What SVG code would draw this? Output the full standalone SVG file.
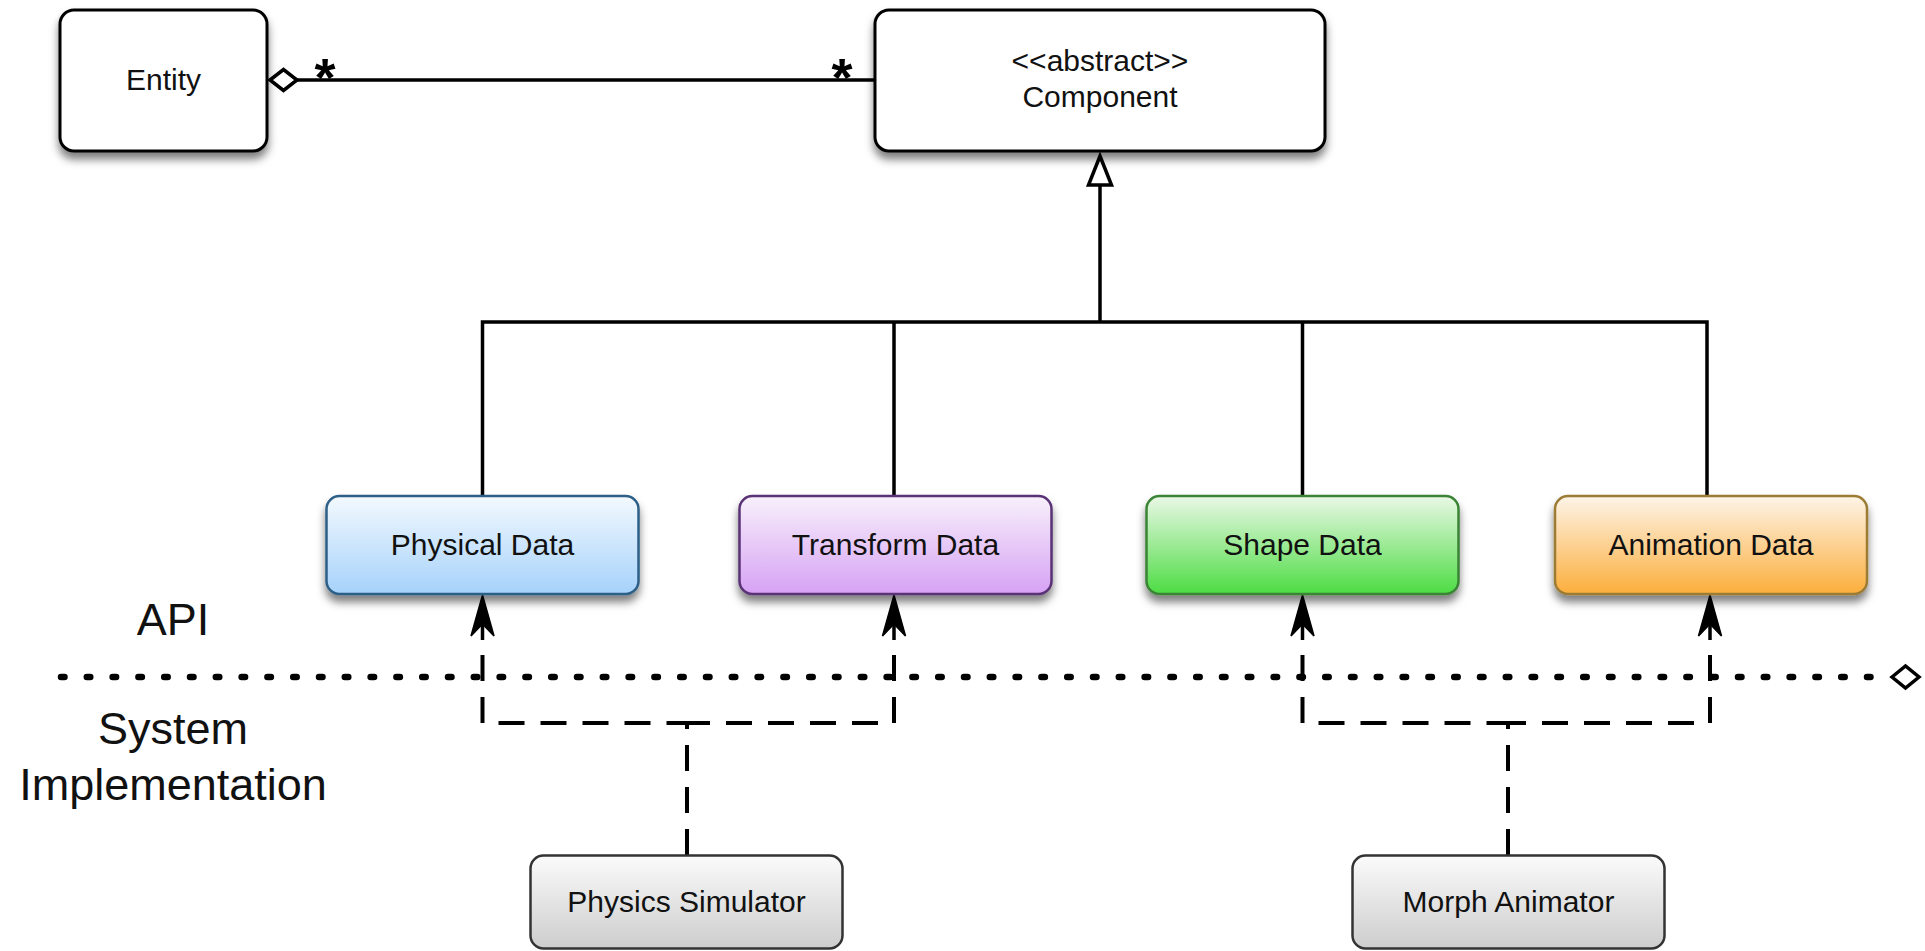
<svg xmlns="http://www.w3.org/2000/svg" width="1925" height="951" viewBox="0 0 1925 951">
<style>
.t{font-family:"Liberation Sans",Arial,sans-serif;fill:#111;text-anchor:middle}
.n{font-size:30px}
.big{font-size:45px}
.star{font-family:"Liberation Sans",Arial,sans-serif;font-size:54px;font-weight:bold;fill:#000;text-anchor:middle}
.ln{fill:none;stroke:#000;stroke-width:3.5}
.dash{fill:none;stroke:#000;stroke-width:4;stroke-dasharray:26 16}
.dot{fill:none;stroke:#000;stroke-width:6.5;stroke-linecap:round;stroke-dasharray:3.5 22.3}
.ah{fill:#000;stroke:#000;stroke-width:1.5;stroke-linejoin:miter}
.box{stroke-width:2.5}
</style>
<defs>
<filter id="sh" x="-10%" y="-10%" width="120%" height="140%">
<feDropShadow dx="0" dy="7" stdDeviation="4" flood-color="#000" flood-opacity="0.5"/>
</filter>
<linearGradient id="gBlue" x1="0" y1="0" x2="0" y2="1"><stop offset="0" stop-color="#f3f9fe"/><stop offset="1" stop-color="#a6d2fb"/></linearGradient>
<linearGradient id="gPurp" x1="0" y1="0" x2="0" y2="1"><stop offset="0" stop-color="#f8f0fb"/><stop offset="1" stop-color="#d6a2f4"/></linearGradient>
<linearGradient id="gGreen" x1="0" y1="0" x2="0" y2="1"><stop offset="0" stop-color="#eaf8e6"/><stop offset="1" stop-color="#4ddc44"/></linearGradient>
<linearGradient id="gOrange" x1="0" y1="0" x2="0" y2="1"><stop offset="0" stop-color="#fdf4e8"/><stop offset="1" stop-color="#fcae3c"/></linearGradient>
<linearGradient id="gGray" x1="0" y1="0" x2="0" y2="1"><stop offset="0" stop-color="#fbfbfb"/><stop offset="1" stop-color="#cdcdcd"/></linearGradient>
</defs>
<rect width="1925" height="951" fill="#fff"/>

<g id="connectors">
  <!-- association Entity - Component -->
  <line class="ln" x1="296" y1="80" x2="875" y2="80" stroke-width="4"/>
  <polygon points="270,80 283.5,69.5 297,80 283.5,90.5" fill="#fff" stroke="#000" stroke-width="3.5"/>
  <text class="star" x="325" y="96">*</text>
  <text class="star" x="842" y="96">*</text>
  <!-- generalization -->
  <line class="ln" x1="1100" y1="185" x2="1100" y2="322"/>
  <polygon points="1100,156 1111.5,185 1088.5,185" fill="#fff" stroke="#000" stroke-width="3.5"/>
  <path class="ln" d="M482.5,496 V322 H1707 V496 M894,322 V496 M1302.5,322 V496"/>
  <!-- API separator -->
  <line class="dot" x1="61" y1="677" x2="1880" y2="677"/>
  <polygon points="1892,677 1905.5,666 1919,677 1905.5,688" fill="#fff" stroke="#000" stroke-width="3.5"/>
  <!-- dependencies -->
  <path class="dash" d="M482.5,655 V723 H687 M894,655 V723 H687 M687,855 V723"/>
  <path class="dash" d="M1302.5,655 V723 H1508 M1710,655 V723 H1508 M1508,855 V723"/>
  <path class="ln" d="M482.5,600 V640 M894,600 V640 M1302.5,600 V640 M1710,600 V640"/>
  <path class="ah" d="M482.5,595 L494,636 L482.5,624 L471,636 Z"/>
  <path class="ah" d="M894,595 L905.5,636 L894,624 L882.5,636 Z"/>
  <path class="ah" d="M1302.5,595 L1314,636 L1302.5,624 L1291,636 Z"/>
  <path class="ah" d="M1710,595 L1721.5,636 L1710,624 L1698.5,636 Z"/>
</g>

<g id="entity">
  <rect x="60" y="10" width="207" height="141" rx="14" fill="#fff" stroke="#000" stroke-width="3" filter="url(#sh)"/>
  <text class="t n" x="163.5" y="90">Entity</text>
</g>
<g id="component">
  <rect x="875" y="10" width="450" height="141" rx="14" fill="#fff" stroke="#000" stroke-width="3" filter="url(#sh)"/>
  <text class="t n" x="1100" y="71">&lt;&lt;abstract&gt;&gt;</text>
  <text class="t n" x="1100" y="107">Component</text>
</g>
<g id="physical-data">
  <rect class="box" x="326.5" y="496" width="312" height="98" rx="13" fill="url(#gBlue)" stroke="#2e5f86" filter="url(#sh)"/>
  <text class="t n" x="482.5" y="555">Physical Data</text>
</g>
<g id="transform-data">
  <rect class="box" x="739.5" y="496" width="312" height="98" rx="13" fill="url(#gPurp)" stroke="#5a3276" filter="url(#sh)"/>
  <text class="t n" x="895.5" y="555">Transform Data</text>
</g>
<g id="shape-data">
  <rect class="box" x="1146.5" y="496" width="312" height="98" rx="13" fill="url(#gGreen)" stroke="#3a8334" filter="url(#sh)"/>
  <text class="t n" x="1302.5" y="555">Shape Data</text>
</g>
<g id="animation-data">
  <rect class="box" x="1555" y="496" width="312" height="98" rx="13" fill="url(#gOrange)" stroke="#9c7c36" filter="url(#sh)"/>
  <text class="t n" x="1711" y="555">Animation Data</text>
</g>
<g id="physics-simulator">
  <rect class="box" x="530.5" y="855.5" width="312" height="93" rx="13" fill="url(#gGray)" stroke="#333"/>
  <text class="t n" x="686.5" y="912">Physics Simulator</text>
</g>
<g id="morph-animator">
  <rect class="box" x="1352.5" y="855.5" width="312" height="93" rx="13" fill="url(#gGray)" stroke="#333"/>
  <text class="t n" x="1508.5" y="912">Morph Animator</text>
</g>
<g id="labels">
  <text class="t big" x="173" y="635">API</text>
  <text class="t big" x="173" y="744">System</text>
  <text class="t big" x="173" y="800">Implementation</text>
</g>
</svg>
